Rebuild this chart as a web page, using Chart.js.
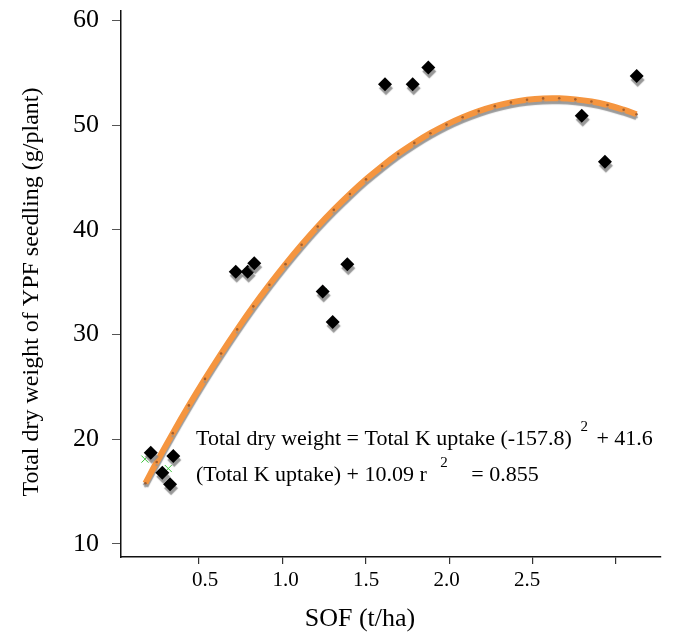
<!DOCTYPE html>
<html><head><meta charset="utf-8">
<script src="https://cdn.jsdelivr.net/npm/chart.js@4.4.1/dist/chart.umd.min.js"></script>
<style>html,body{margin:0;padding:0;background:#fff;}</style>
</head><body>
<canvas id="c" width="691" height="635" style="width:691px;height:635px;display:block"></canvas>
<script>
// Observed data (SOF t/ha vs total dry weight g/plant)
const sofValues   = [0.163, 0.303, 0.235, 0.283, 0.691, 0.765, 0.806, 1.231, 1.293, 1.384, 1.618, 1.790, 1.887, 2.840, 2.984, 3.181];
const dryWeights  = [18.7, 18.4, 16.8, 15.7, 36.0, 36.0, 36.8, 34.1, 31.2, 36.7, 53.9, 53.9, 55.5, 50.9, 46.5, 54.7];
// secondary (green cross) markers
const greenSof    = [0.127, 0.272, 0.767, 1.233];
const greenWeight = [18.1, 17.2, 36.0, 34.1];
// fitted trend line
const fitSof    = [0.13, 0.2, 0.3, 0.4, 0.5, 0.6, 0.7, 0.8, 0.9, 1.0, 1.1, 1.2, 1.3, 1.4, 1.5, 1.6, 1.7, 1.8, 1.9, 2.0, 2.1, 2.2, 2.3, 2.4, 2.5, 2.6, 2.7, 2.8, 2.9, 3.0, 3.1, 3.18];
const fitWeight = [15.80, 17.82, 20.58, 23.23, 25.76, 28.18, 30.49, 32.69, 34.76, 36.72, 38.57, 40.31, 41.92, 43.42, 44.82, 46.09, 47.26, 48.30, 49.23, 50.05, 50.75, 51.34, 51.81, 52.17, 52.42, 52.55, 52.56, 52.46, 52.25, 51.92, 51.47, 51.04];
// tick labels
const xTickLabels = [0.5, 1.0, 1.5, 2.0, 2.5];
const xTickMarks  = [0.5, 1.0, 1.5, 2.0, 2.5, 3.0];
const yTickValues = [10, 20, 30, 40, 50, 60];
const xTitle = 'SOF (t/ha)';
const yTitle = 'Total dry weight of YPF seedling (g/plant)';

const FONT = "'Liberation Serif', 'Times New Roman', serif";
const pts = (xs, ys) => xs.map((x, i) => ({x: x, y: ys[i]}));

const shadowPlugin = {
  id: 'shadowPlugin',
  beforeDatasetDraw(chart, args) {
    const ds = chart.data.datasets[args.index];
    if (ds.shadow) {
      const c = chart.ctx; c.save();
      c.shadowColor = ds.shadow.color; c.shadowOffsetX = ds.shadow.x;
      c.shadowOffsetY = ds.shadow.y; c.shadowBlur = ds.shadow.blur;
    }
  },
  afterDatasetDraw(chart, args) {
    const ds = chart.data.datasets[args.index];
    if (ds.shadow) chart.ctx.restore();
  }
};

const textPlugin = {
  id: 'textPlugin',
  afterDraw(chart) {
    const c = chart.ctx, a = chart.chartArea;
    c.save();
    c.fillStyle = '#000';
    // axis titles
    c.textAlign = 'center'; c.textBaseline = 'middle';
    c.font = '26px ' + FONT;
    c.fillText(xTitle, 360, 619);
    c.save();
    c.translate(32, 292); c.rotate(-Math.PI / 2);
    c.font = '24px ' + FONT;
    c.fillText(yTitle, 0, 0);
    c.restore();
    // regression equation
    c.textBaseline = 'alphabetic';
    c.textAlign = 'left';
    const big = '22px ' + FONT, small = '15px ' + FONT;
    const lines = [
      {segs: [['Total dry weight = Total K uptake (-157.8) ', 0], ['2', 1], [' + 41.6', 0]], pre: 3, post: 3},
      {segs: [['(Total K uptake) + 10.09 r ', 0], ['2', 1], [' = 0.855', 0]], pre: 8, post: 18}
    ];
    const x0 = a.left + 75;
    const baselines = [445, 481];
    lines.forEach((ln, li) => {
      let x = x0;
      ln.segs.forEach(([t, sup]) => {
        c.font = sup ? small : big;
        if (sup) x += ln.pre;
        c.fillText(t, x, sup ? baselines[li] - 14 : baselines[li]);
        x += c.measureText(t).width + (sup ? ln.post : 0);
      });
    });
    c.restore();
  }
};

new Chart(document.getElementById('c'), {
  type: 'scatter',
  data: {
    datasets: [
      {
        label: 'observed', data: pts(sofValues, dryWeights), xAxisID: 'x', yAxisID: 'y',
        pointStyle: 'rectRot', pointRadius: 7, backgroundColor: '#000', borderColor: '#000', borderWidth: 0,
        shadow: {color: 'rgba(140,140,140,0.9)', x: 1, y: 4, blur: 1}, order: 0
      },
      {
        label: 'green', data: pts(greenSof, greenWeight), xAxisID: 'x', yAxisID: 'y',
        pointStyle: 'crossRot', pointRadius: 5, borderColor: '#3cc43c', backgroundColor: '#3cc43c', borderWidth: 1, order: 1
      },
      {
        label: 'fit', data: pts(fitSof, fitWeight), xAxisID: 'x', yAxisID: 'y',
        showLine: true, tension: 0.4, borderColor: '#F5953F', borderWidth: 6,
        pointRadius: 1.3, pointBackgroundColor: 'rgba(150,85,40,0.85)', pointBorderWidth: 0,
        shadow: {color: 'rgba(150,150,150,0.95)', x: 0, y: 3, blur: 1}, order: 2
      }
    ]
  },
  options: {
    responsive: false, animation: false,
    layout: {padding: {top: 11, right: 30, left: 0, bottom: 0}},
    plugins: {legend: {display: false}, tooltip: {enabled: false}},
    scales: {
      xt: {
        type: 'linear', position: 'bottom', weight: 1, min: 0.0324, max: 3.27,
        afterBuildTicks: s => { s.ticks = xTickMarks.map(v => ({value: v})); },
        afterFit: s => { s.height = 7; s.paddingLeft = 0; s.paddingRight = 0; },
        ticks: {display: false},
        grid: {display: true, drawOnChartArea: false, drawTicks: true, tickLength: 7, color: '#333', lineWidth: 1.2},
        border: {display: true, color: '#111', width: 1.5}
      },
      x: {
        type: 'linear', position: 'bottom', weight: 2, min: -0.0217, max: 3.332,
        afterBuildTicks: s => { s.ticks = xTickLabels.map(v => ({value: v})); },
        afterFit: s => { s.height = 71; s.paddingLeft = 0; s.paddingRight = 0; },
        ticks: {color: '#000', font: {family: FONT, size: 21}, padding: 4, maxRotation: 0,
                callback: v => Number(v).toFixed(1)},
        grid: {display: false, drawTicks: false},
        border: {display: false}
      },
      y: {
        type: 'linear', position: 'left', min: 8.75, max: 60.9,
        afterBuildTicks: s => { s.ticks = yTickValues.map(v => ({value: v})); },
        afterFit: s => { s.width = 121; s.paddingTop = 0; s.paddingBottom = 0; },
        ticks: {color: '#000', font: {family: FONT, size: 26}, padding: 13},
        grid: {display: true, drawOnChartArea: false, drawTicks: true, tickLength: 9, color: '#555', lineWidth: 1},
        border: {display: true, color: '#111', width: 1.5}
      }
    }
  },
  plugins: [shadowPlugin, textPlugin]
});
</script>
</body></html>
